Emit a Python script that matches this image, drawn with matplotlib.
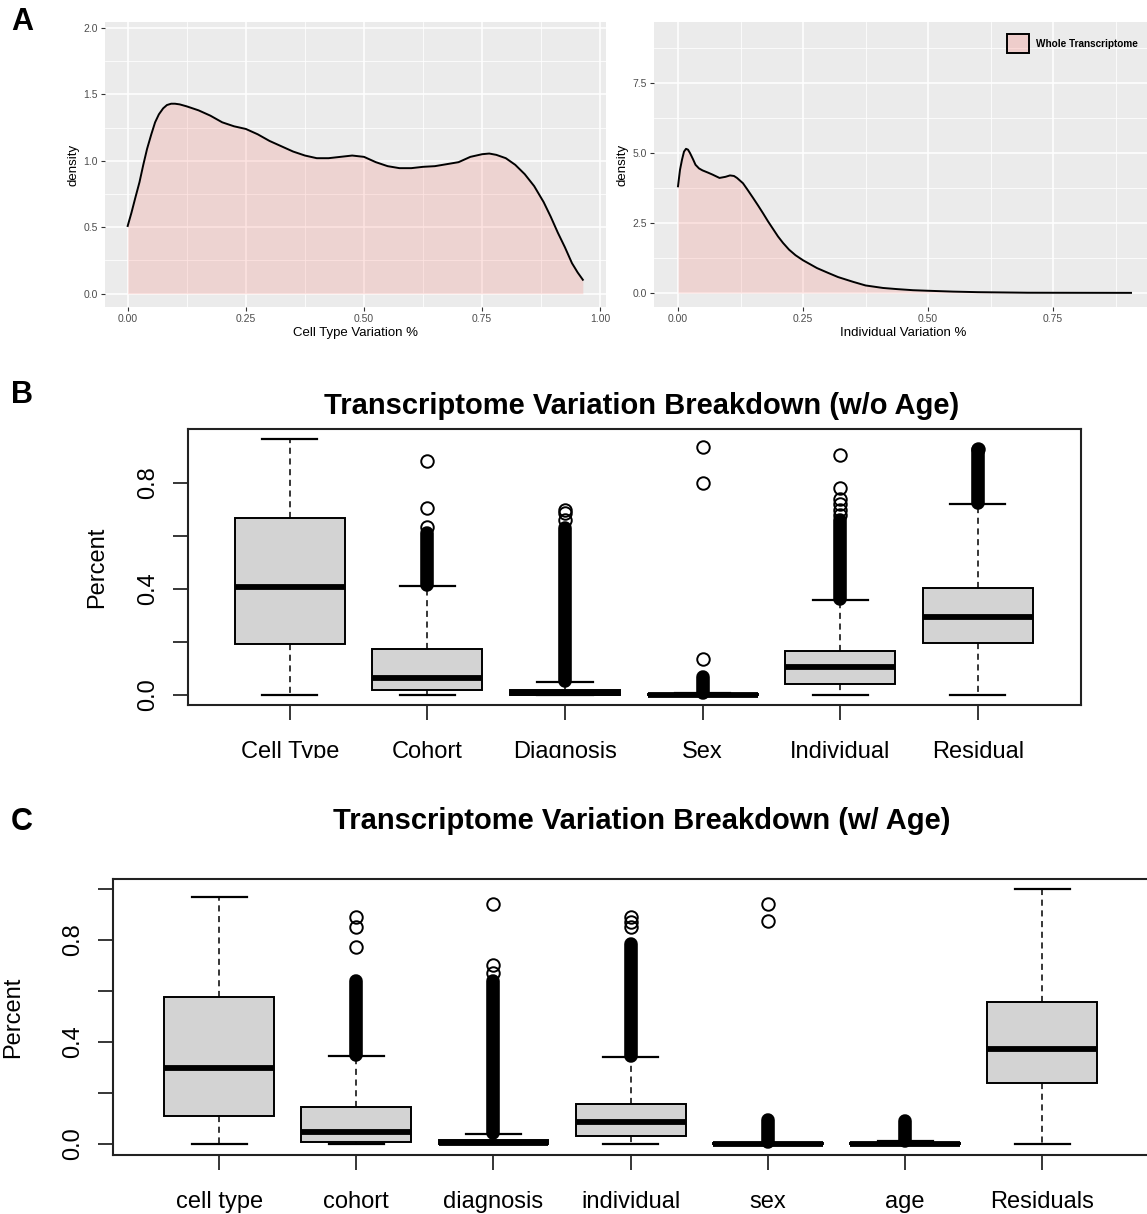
import numpy as np
import matplotlib
matplotlib.use("Agg")
import matplotlib.pyplot as plt
from matplotlib.patches import Patch
from matplotlib.transforms import Bbox, TransformedBbox

plt.rcParams['font.family'] = ['Liberation Sans', 'DejaVu Sans']

# ---------------- data ----------------
# Panel A left: density of cell type variation
ct_x = [0.0, 0.008, 0.016, 0.025, 0.033, 0.041, 0.05, 0.058, 0.066, 0.075, 0.083, 0.092,
        0.10, 0.11, 0.125, 0.15, 0.175, 0.20, 0.225, 0.25, 0.275, 0.30, 0.325, 0.35,
        0.375, 0.40, 0.425, 0.45, 0.475, 0.50, 0.525, 0.55, 0.575, 0.60, 0.625, 0.65,
        0.675, 0.70, 0.725, 0.75, 0.765, 0.78, 0.80, 0.82, 0.84, 0.86, 0.88, 0.895,
        0.91, 0.925, 0.94, 0.952, 0.963]
ct_y = [0.51, 0.61, 0.72, 0.84, 0.97, 1.09, 1.20, 1.29, 1.35, 1.395, 1.42, 1.43,
        1.43, 1.425, 1.41, 1.38, 1.34, 1.29, 1.26, 1.24, 1.20, 1.15, 1.11, 1.07,
        1.04, 1.02, 1.02, 1.03, 1.04, 1.03, 0.99, 0.96, 0.945, 0.945, 0.955, 0.96,
        0.975, 0.99, 1.03, 1.05, 1.055, 1.045, 1.02, 0.97, 0.90, 0.81, 0.69, 0.58,
        0.46, 0.35, 0.23, 0.16, 0.105]

# Panel A right: density of individual variation
iv_x = [0.0, 0.004, 0.008, 0.012, 0.016, 0.020, 0.024, 0.030, 0.035, 0.042, 0.049,
        0.06, 0.069, 0.083, 0.095, 0.104, 0.112, 0.118, 0.13, 0.139, 0.15, 0.16,
        0.17, 0.18, 0.19, 0.20, 0.21, 0.222, 0.235, 0.25, 0.265, 0.278, 0.30, 0.32,
        0.35, 0.375, 0.41, 0.4375, 0.47, 0.50, 0.55, 0.60, 0.65, 0.70, 0.80, 0.906]
iv_y = [3.81, 4.40, 4.76, 5.05, 5.15, 5.12, 5.00, 4.78, 4.58, 4.45, 4.38,
        4.30, 4.23, 4.11, 4.15, 4.20, 4.18, 4.11, 3.92, 3.69, 3.40, 3.13,
        2.85, 2.56, 2.29, 2.02, 1.79, 1.55, 1.35, 1.17, 1.02, 0.89, 0.72, 0.57,
        0.40, 0.27, 0.18, 0.14, 0.10, 0.08, 0.05, 0.03, 0.02, 0.01, 0.007, 0.005]

ct_xticks = [0.0, 0.25, 0.50, 0.75, 1.00]
ct_xticklabels = ["0.00", "0.25", "0.50", "0.75", "1.00"]
ct_yticks = [0.0, 0.5, 1.0, 1.5, 2.0]
ct_yticklabels = ["0.0", "0.5", "1.0", "1.5", "2.0"]
iv_xticks = [0.0, 0.25, 0.50, 0.75]
iv_xticklabels = ["0.00", "0.25", "0.50", "0.75"]
iv_yticks = [0.0, 2.5, 5.0, 7.5]
iv_yticklabels = ["0.0", "2.5", "5.0", "7.5"]
legend_label = "Whole Transcriptome"

# Panel B: boxplot summary (w/o Age)
b_names = ["Cell Type", "Cohort", "Diagnosis", "Sex", "Individual", "Residual"]
b_whislo = [0.0, 0.0, 0.0, 0.0, 0.0, 0.0]
b_q1 = [0.192, 0.019, 0.0, 0.0, 0.042, 0.196]
b_med = [0.408, 0.064, 0.006, 0.001, 0.106, 0.294]
b_q3 = [0.668, 0.174, 0.020, 0.003, 0.166, 0.404]
b_whishi = [0.966, 0.411, 0.049, 0.006, 0.358, 0.721]
b_dense_lo = [None, 0.415, 0.052, 0.008, 0.362, 0.725]
b_dense_hi = [None, 0.610, 0.632, 0.066, 0.660, 0.925]
b_fliers = [[], [0.634, 0.706, 0.883], [0.66, 0.685, 0.70], [0.136, 0.80, 0.936],
            [0.68, 0.70, 0.72, 0.74, 0.78, 0.906], [0.93]]

# Panel C: boxplot summary (w/ Age)
c_names = ["cell type", "cohort", "diagnosis", "individual", "sex", "age", "Residuals"]
c_whislo = [0.0, 0.0, 0.0, 0.0, 0.0, 0.0, 0.0]
c_q1 = [0.110, 0.008, 0.0, 0.031, 0.0, 0.0, 0.239]
c_med = [0.298, 0.047, 0.004, 0.086, 0.001, 0.002, 0.372]
c_q3 = [0.576, 0.145, 0.016, 0.157, 0.003, 0.005, 0.557]
c_whishi = [0.969, 0.345, 0.040, 0.341, 0.006, 0.010, 0.999]
c_dense_lo = [None, 0.350, 0.045, 0.345, 0.008, 0.012, None]
c_dense_hi = [None, 0.640, 0.640, 0.785, 0.095, 0.090, None]
c_fliers = [[], [0.773, 0.851, 0.890], [0.67, 0.70, 0.941], [0.85, 0.87, 0.89],
            [0.874, 0.941], [], []]

box_yticks = [0.0, 0.2, 0.4, 0.6, 0.8]
box_yticklabels = ["0.0", "", "0.4", "", "0.8"]
c_yticks = [0.0, 0.2, 0.4, 0.6, 0.8, 1.0]
c_yticklabels = ["0.0", "", "0.4", "", "0.8", ""]

# ---------------- figure ----------------
W, H = 1147, 1214
fig = plt.figure(figsize=(W / 100, H / 100), dpi=100)


def px_axes(x0, y0, x1, y1):
    return fig.add_axes([x0 / W, 1 - y1 / H, (x1 - x0) / W, (y1 - y0) / H])


GG_BG = "#EBEBEB"
FILL = "#F8766D"
FILL_ALPHA = 0.2


def gg_style(ax, xlim, ylim, xt, xtl, yt, ytl, xminor, yminor, xlabel):
    ax.set_facecolor(GG_BG)
    for s in ax.spines.values():
        s.set_visible(False)
    ax.set_xlim(*xlim)
    ax.set_ylim(*ylim)
    ax.set_xticks(xt)
    ax.set_xticklabels(xtl)
    ax.set_yticks(yt)
    ax.set_yticklabels(ytl)
    ax.set_xticks(xminor, minor=True)
    ax.set_yticks(yminor, minor=True)
    ax.grid(True, which="major", color="white", linewidth=1.1)
    ax.grid(True, which="minor", color="white", linewidth=0.55)
    ax.set_axisbelow(True)
    ax.tick_params(which="major", length=3, width=0.8, color="#333333",
                   labelsize=7.5, labelcolor="#4D4D4D", pad=2)
    ax.tick_params(which="minor", length=0)
    ax.set_xlabel(xlabel, fontsize=9.5, labelpad=2)
    ax.set_ylabel("density", fontsize=9.5, labelpad=3)


# Panel A left
axA1 = px_axes(105, 22, 606, 307)
gg_style(axA1, (-0.048, 1.012), (-0.1, 2.045), ct_xticks, ct_xticklabels,
         ct_yticks, ct_yticklabels, [0.125, 0.375, 0.625, 0.875],
         [0.25, 0.75, 1.25, 1.75], "Cell Type Variation %")
axA1.fill_between(ct_x, 0, ct_y, color=FILL, alpha=FILL_ALPHA, linewidth=0, zorder=2)
axA1.plot(ct_x, ct_y, color="black", linewidth=1.4, zorder=3,
          solid_joinstyle="round")

# Panel A right
axA2 = px_axes(654, 22, 1153, 307)
gg_style(axA2, (-0.048, 0.95), (-0.5, 9.68), iv_xticks, iv_xticklabels,
         iv_yticks, iv_yticklabels, [0.125, 0.375, 0.625, 0.875],
         [1.25, 3.75, 6.25, 8.75], "Individual Variation %")
axA2.fill_between(iv_x, 0, iv_y, color=FILL, alpha=FILL_ALPHA, linewidth=0, zorder=2)
axA2.plot(iv_x, iv_y, color="black", linewidth=1.4, zorder=3,
          solid_joinstyle="round")
leg = axA2.legend(handles=[Patch(facecolor=(0.973, 0.463, 0.427, 0.25),
                                 edgecolor="black", linewidth=1.4, label=legend_label)],
                  loc="upper left", bbox_to_anchor=(1007 / W, 1 - 34 / H),
                  bbox_transform=fig.transFigure, frameon=False, borderpad=0,
                  borderaxespad=0, handlelength=2.2, handleheight=2.6,
                  handletextpad=0.7, prop={"size": 7.2, "weight": "bold"})

fig.text(22 / W, 1 - 22 / H, "A", fontsize=22, fontweight="bold", ha="center", va="center")
fig.text(22 / W, 1 - 395 / H, "B", fontsize=22, fontweight="bold", ha="center", va="center")
fig.text(22 / W, 1 - 822 / H, "C", fontsize=22, fontweight="bold", ha="center", va="center")


def r_boxplot(ax, names, whislo, q1, med, q3, whishi, fliers, dlo, dhi,
              xlim, ylim, yt, ytl, title, title_y):
    stats = []
    for i in range(len(names)):
        stats.append(dict(whislo=whislo[i], q1=q1[i], med=med[i], q3=q3[i],
                          whishi=whishi[i], fliers=fliers[i], label=names[i]))
    pos = list(range(1, len(names) + 1))
    # dense outlier columns (overlapping open circles)
    for p, lo, hi in zip(pos, dlo, dhi):
        if lo is not None:
            ax.plot([p, p], [lo, hi], color="black", linewidth=9.8,
                    solid_capstyle="round", zorder=1)
    ax.bxp(stats, positions=pos, widths=0.8, patch_artist=True, capwidths=0.4,
           manage_ticks=False,
           boxprops=dict(facecolor="#D3D3D3", edgecolor="black", linewidth=1.4),
           medianprops=dict(color="black", linewidth=4.2, solid_capstyle="butt"),
           whiskerprops=dict(color="black", linewidth=1.1, linestyle=(0, (4, 3))),
           capprops=dict(color="black", linewidth=1.6),
           flierprops=dict(marker="o", markerfacecolor="none", markeredgecolor="black",
                           markersize=9, markeredgewidth=1.4, linestyle="none"))
    ax.set_xlim(*xlim)
    ax.set_ylim(*ylim)
    ax.set_xticks(pos)
    ax.set_xticklabels(names, fontsize=17)
    ax.set_yticks(yt)
    ax.set_yticklabels(ytl, fontsize=17, rotation=90, va="center")
    ax.tick_params(axis="both", direction="out", length=11, width=1.1, color="black")
    ax.tick_params(axis="x", pad=15)
    ax.tick_params(axis="y", pad=10)
    for s in ax.spines.values():
        s.set_linewidth(1.5)
        s.set_color("#222222")
    ax.set_ylabel("Percent", fontsize=17)
    fig.text(642 / W, 1 - title_y / H, title,
             fontsize=21, fontweight="bold", ha="center", va="center")


axB = px_axes(188, 429, 1081, 705)
r_boxplot(axB, b_names, b_whislo, b_q1, b_med, b_q3, b_whishi, b_fliers,
          b_dense_lo, b_dense_hi, (0.26, 6.75), (-0.038, 1.004),
          box_yticks, box_yticklabels,
          "Transcriptome Variation Breakdown (w/o Age)", 406)
axB.yaxis.set_label_coords((108 - 188) / (1081 - 188), 0.5)
clip = TransformedBbox(Bbox([[0, 1 - 758 / H], [1, 1]]), fig.transFigure)
for lab in axB.get_xticklabels():
    lab.set_clip_box(clip)
    lab.set_clip_on(True)

axC = px_axes(113, 879, 1148, 1155)
r_boxplot(axC, c_names, c_whislo, c_q1, c_med, c_q3, c_whishi, c_fliers,
          c_dense_lo, c_dense_hi, (0.227, 7.77), (-0.043, 1.039),
          c_yticks, c_yticklabels,
          "Transcriptome Variation Breakdown (w/ Age)", 821)
axC.yaxis.set_label_coords((24 - 113) / (1148 - 113), 0.5)
axC.spines["right"].set_visible(False)

fig.savefig("out.png", dpi=100)
